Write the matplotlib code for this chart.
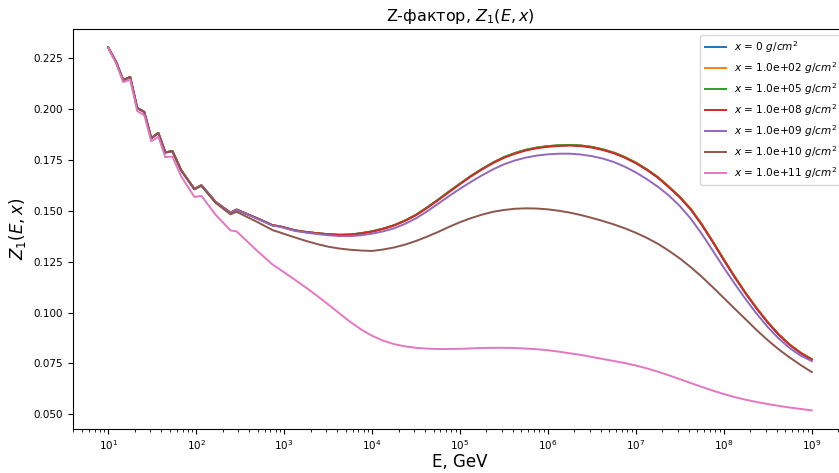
import matplotlib
matplotlib.use("Agg")
import matplotlib.pyplot as plt

# log10 of energy (GeV): tabulated grid, coarse steps at low E carry the kinks
log_E = [1.00, 1.09, 1.17, 1.25, 1.33, 1.41, 1.49, 1.57, 1.65, 1.73, 1.83, 1.98, 2.06,
         2.22, 2.39, 2.46, 2.70, 2.87, 2.95,
         3.125, 3.25, 3.375, 3.5, 3.625, 3.75, 3.875, 4.0, 4.125, 4.25, 4.375, 4.5,
         4.625, 4.75, 4.875, 5.0, 5.125, 5.25, 5.375, 5.5, 5.625, 5.75, 5.875, 6.0,
         6.125, 6.25, 6.375, 6.5, 6.625, 6.75, 6.875, 7.0, 7.125, 7.25, 7.375, 7.5,
         7.625, 7.75, 7.875, 8.0, 8.125, 8.25, 8.375, 8.5, 8.625, 8.75, 8.875, 9.0]

# Z1(E, x) for x = 0, 1e2, 1e5 g/cm^2 (these curves coincide)
z_0 = [0.2300, 0.2229, 0.2140, 0.2155, 0.2003, 0.1984, 0.1855, 0.1881, 0.1785, 0.1792,
       0.1698, 0.1606, 0.1624, 0.1543, 0.1490, 0.1505, 0.1461, 0.1428, 0.1423,
       0.1403, 0.1395, 0.1389, 0.1384, 0.1381, 0.1382, 0.1389, 0.1398, 0.1411, 0.1428,
       0.1451, 0.1479, 0.1515, 0.1553, 0.1593, 0.1632, 0.1670, 0.1704, 0.1735, 0.1762,
       0.1782, 0.1798, 0.1809, 0.1816, 0.1820, 0.1822, 0.1819, 0.1812, 0.1800, 0.1784,
       0.1762, 0.1735, 0.1702, 0.1664, 0.1617, 0.1567, 0.1507, 0.1432, 0.1347, 0.1259,
       0.1174, 0.1094, 0.1020, 0.0952, 0.0892, 0.0842, 0.0802, 0.0771]
z_1e8 = [0.2300, 0.2229, 0.2140, 0.2155, 0.2003, 0.1984, 0.1855, 0.1881, 0.1785, 0.1792,
         0.1698, 0.1606, 0.1624, 0.1543, 0.1490, 0.1505, 0.1461, 0.1428, 0.1423,
         0.1403, 0.1395, 0.1389, 0.1384, 0.1381, 0.1382, 0.1388, 0.1397, 0.1410, 0.1427,
         0.1450, 0.1478, 0.1513, 0.1551, 0.1591, 0.1630, 0.1668, 0.1702, 0.1733, 0.1759,
         0.1779, 0.1795, 0.1806, 0.1813, 0.1817, 0.1819, 0.1816, 0.1809, 0.1797, 0.1781,
         0.1759, 0.1732, 0.1699, 0.1661, 0.1614, 0.1564, 0.1504, 0.1429, 0.1345, 0.1257,
         0.1172, 0.1092, 0.1018, 0.0950, 0.0890, 0.0840, 0.0800, 0.0769]
z_1e9 = [0.2300, 0.2229, 0.2140, 0.2155, 0.2003, 0.1984, 0.1855, 0.1881, 0.1785, 0.1792,
         0.1698, 0.1606, 0.1624, 0.1543, 0.1489, 0.1504, 0.1459, 0.1426, 0.1421,
         0.1400, 0.1392, 0.1385, 0.1379, 0.1375, 0.1375, 0.1379, 0.1387, 0.1398, 0.1413,
         0.1435, 0.1462, 0.1496, 0.1533, 0.1571, 0.1607, 0.1641, 0.1673, 0.1702, 0.1727,
         0.1746, 0.1760, 0.1770, 0.1776, 0.1779, 0.1779, 0.1775, 0.1767, 0.1755, 0.1738,
         0.1715, 0.1687, 0.1654, 0.1617, 0.1574, 0.1522, 0.1460, 0.1385, 0.1303, 0.1220,
         0.1140, 0.1064, 0.0993, 0.0928, 0.0872, 0.0825, 0.0788, 0.0762]
z_1e10 = [0.2300, 0.2229, 0.2140, 0.2155, 0.2003, 0.1984, 0.1855, 0.1881, 0.1785, 0.1792,
          0.1697, 0.1604, 0.1621, 0.1538, 0.1482, 0.1494, 0.1443, 0.1404, 0.1393,
          0.1368, 0.1351, 0.1336, 0.1323, 0.1314, 0.1308, 0.1304, 0.1302, 0.1309, 0.1319,
          0.1333, 0.1351, 0.1372, 0.1395, 0.1420, 0.1443, 0.1463, 0.1480, 0.1494, 0.1503,
          0.1509, 0.1511, 0.1510, 0.1506, 0.1499, 0.1490, 0.1478, 0.1464, 0.1449, 0.1432,
          0.1413, 0.1391, 0.1366, 0.1337, 0.1303, 0.1265, 0.1222, 0.1175, 0.1124, 0.1071,
          0.1018, 0.0966, 0.0913, 0.0864, 0.0819, 0.0779, 0.0742, 0.0708]
z_1e11 = [0.2297, 0.2222, 0.2130, 0.2142, 0.1988, 0.1968, 0.1840, 0.1862, 0.1762, 0.1765,
          0.1668, 0.1567, 0.1572, 0.1480, 0.1403, 0.1398, 0.1300, 0.1235, 0.1212,
          0.1160, 0.1122, 0.1082, 0.1040, 0.0997, 0.0955, 0.0917, 0.0886, 0.0862, 0.0845,
          0.0834, 0.0827, 0.0823, 0.0821, 0.0821, 0.0822, 0.0824, 0.0826, 0.0827, 0.0827,
          0.0826, 0.0823, 0.0820, 0.0815, 0.0808, 0.0800, 0.0792, 0.0782, 0.0772, 0.0762,
          0.0752, 0.0740, 0.0726, 0.0710, 0.0692, 0.0673, 0.0654, 0.0635, 0.0617, 0.0600,
          0.0585, 0.0572, 0.0561, 0.0551, 0.0542, 0.0534, 0.0527, 0.0520]

depths = [0, 1e2, 1e5, 1e8, 1e9, 1e10, 1e11]
curves = [z_0, z_0, z_0, z_1e8, z_1e9, z_1e10, z_1e11]

E = [10 ** p for p in log_E]


def depth_label(x):
    s = "0" if x == 0 else f"{x:.1e}"
    return f"$x$ = {s} $g/cm^2$"


fig = plt.figure(figsize=(8.39, 4.73), dpi=100)
# right edge of the axes lies just outside the canvas, as in the reference
ax = fig.add_axes([0.087, 0.094, 0.9225, 0.844])

for x, z in zip(depths, curves):
    ax.plot(E, z, linewidth=1.4, label=depth_label(x))

ax.set_xscale("log")
ax.set_title("Z-фактор, $Z_1(E, x)$", fontsize=11.5)
ax.set_xlabel("E, GeV", fontsize=12, labelpad=1)
ax.set_ylabel("$Z_1(E, x)$", fontsize=12)
ax.tick_params(labelsize=7.5)
ax.legend(fontsize=7.6)

fig.savefig("out.png", dpi=100)
